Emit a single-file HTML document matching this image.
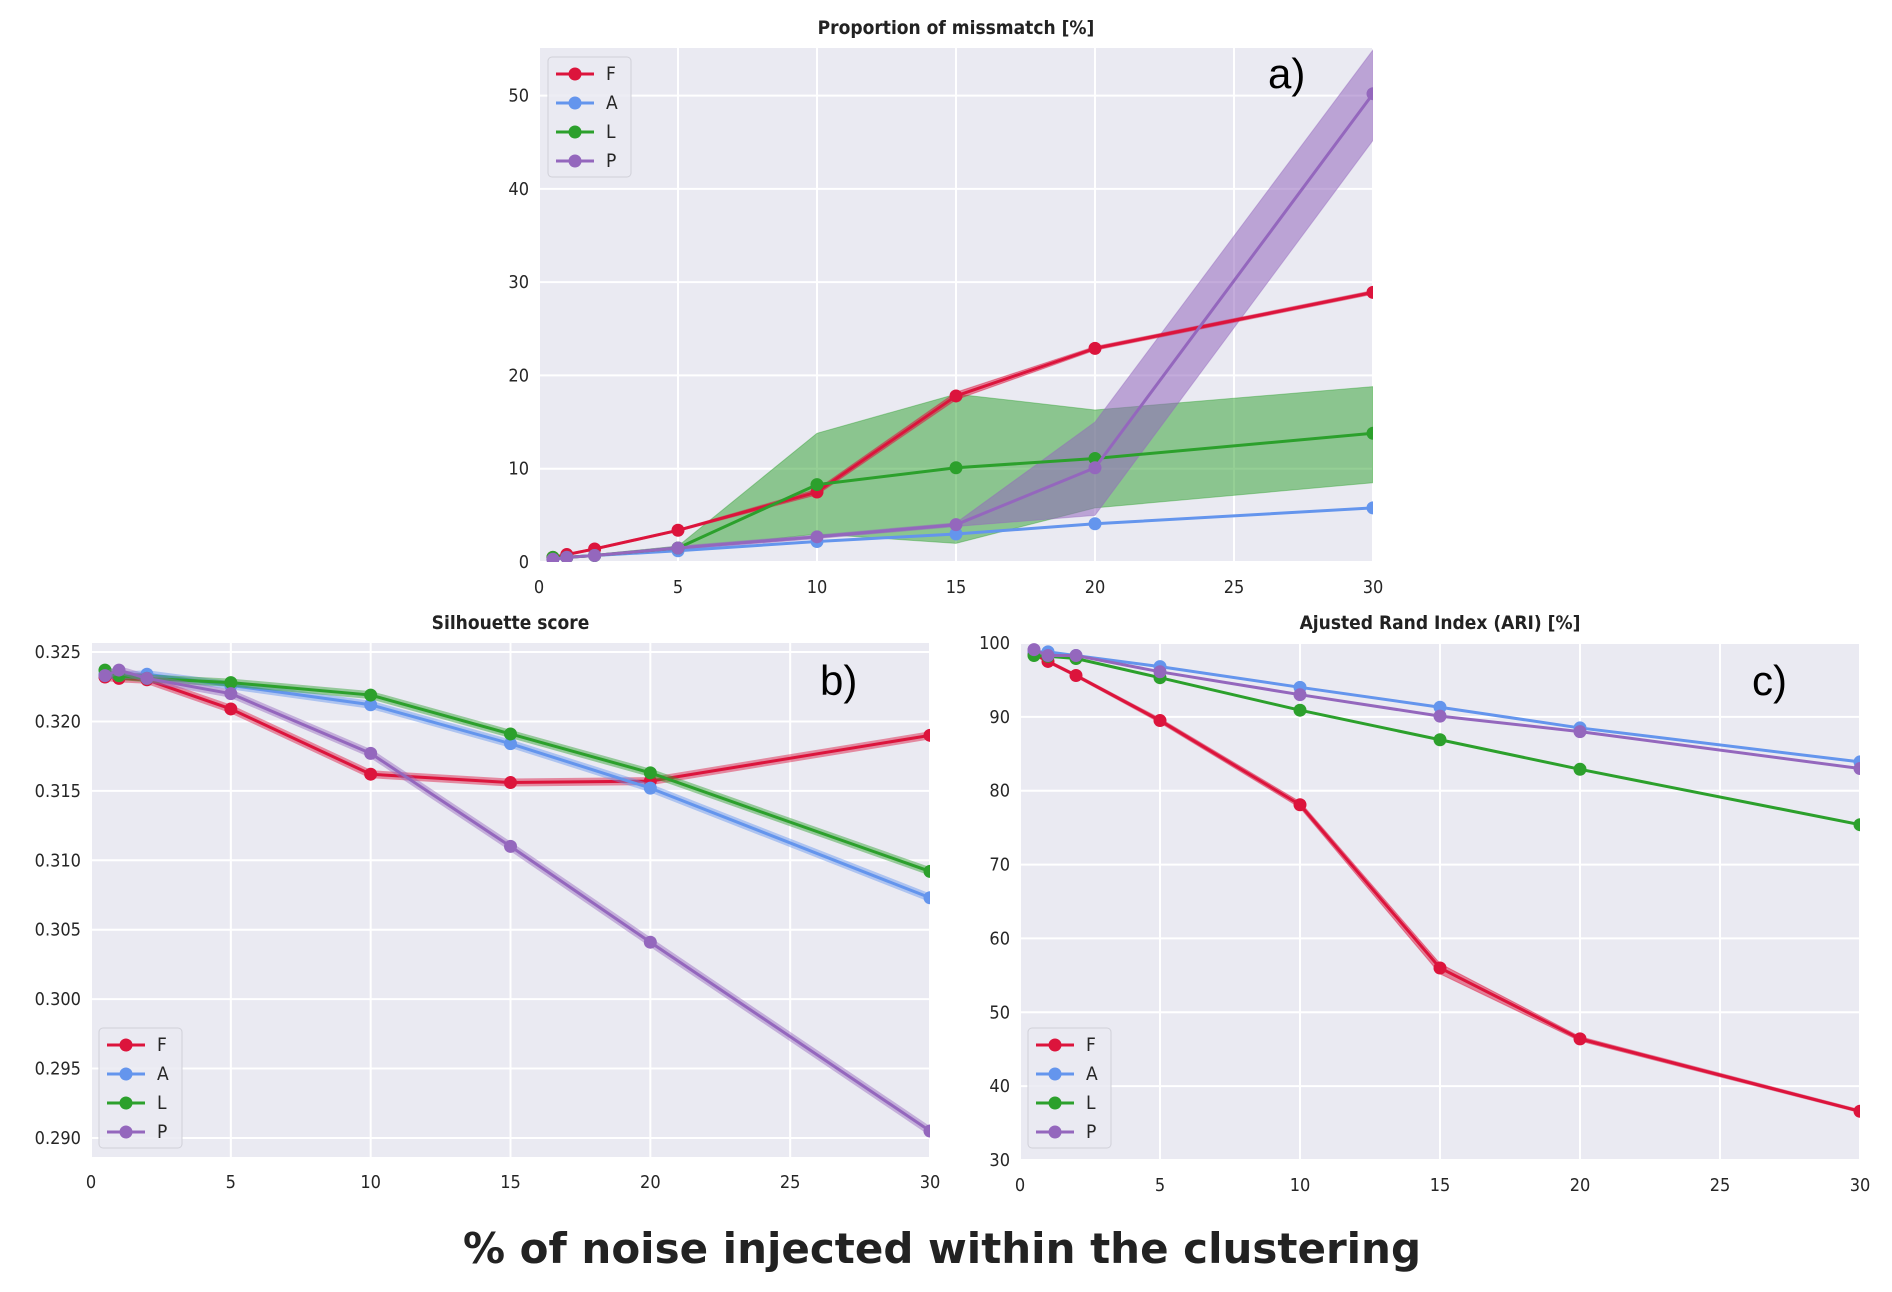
<!DOCTYPE html>
<html><head><meta charset="utf-8"><style>
html,body{margin:0;padding:0;background:#fff;}
svg{display:block;font-family:"DejaVu Sans Condensed","DejaVu Sans","Liberation Sans",sans-serif;}
</style></head><body>
<svg id="fig" width="1892" height="1292" viewBox="0 0 1892 1292" xmlns="http://www.w3.org/2000/svg">
<text x="942" y="1263" text-anchor="middle" font-size="42" font-weight="bold" fill="#222" font-family="DejaVu Sans, sans-serif">% of noise injected within the clustering</text>
</svg>
<script>
const xs = [0.5,1,2,5,10,15,20,30];
const xTicks = [0,5,10,15,20,25,30];
const seriesNames = ['F','A','L','P'];
const colors = ['#dc143c','#6495ed','#2ca02c','#9467bd'];

// panel a
const aF = [0.5,0.8,1.4,3.4,7.5,17.8,22.9,28.9];
const aA = [0.3,0.5,0.7,1.2,2.2,3.0,4.1,5.8];
const aL = [0.5,0.5,0.7,1.5,8.3,10.1,11.1,13.8];
const aP = [0.3,0.5,0.7,1.5,2.7,4.0,10.1,50.2];
const aLlo = [0.4,0.4,0.6,1.3,3.0,2.0,5.8,8.5];
const aLhi = [0.6,0.6,0.8,1.7,13.8,18.0,16.3,18.8];
const aPlo = [0.2,0.4,0.6,1.3,2.5,3.8,5.0,45.2];
const aPhi = [0.4,0.6,0.8,1.7,2.9,4.2,15.0,54.9];
const aFlo = [0.4,0.7,1.3,3.3,7.2,17.4,22.7,28.7];
const aFhi = [0.6,0.9,1.5,3.5,7.8,18.2,23.1,29.1];
const aYTicks = [0,10,20,30,40,50];

// panel b
const bF = [0.3232,0.3231,0.3230,0.3209,0.3162,0.3156,0.3157,0.3190];
const bA = [0.3234,0.3233,0.3234,0.3226,0.3212,0.3184,0.3152,0.3073];
const bL = [0.3237,0.3233,0.3231,0.3228,0.3219,0.3191,0.3163,0.3092];
const bP = [0.3233,0.3237,0.3231,0.3220,0.3177,0.3110,0.3041,0.2905];
const bYTicks = [0.290,0.295,0.300,0.305,0.310,0.315,0.320,0.325];
const bYLabels = ['0.290','0.295','0.300','0.305','0.310','0.315','0.320','0.325'];

// panel c
const cF = [98.5,97.5,95.6,89.5,78.1,56.0,46.4,36.6];
const cA = [98.8,98.8,98.3,96.8,94.0,91.3,88.5,83.9];
const cL = [98.3,98.2,97.9,95.3,90.9,86.9,82.9,75.4];
const cP = [99.1,98.3,98.3,96.1,93.0,90.1,88.0,83.0];
const cFlo = [98.3,97.3,95.4,89.2,77.7,55.2,46.1,36.4];
const cFhi = [98.7,97.7,95.8,89.8,78.5,56.6,46.7,36.8];
const cYTicks = [30,40,50,60,70,80,90,100];

const NS='http://www.w3.org/2000/svg';
const svg=document.getElementById('fig');
function el(tag,attrs,parent){const e=document.createElementNS(NS,tag);for(const k in attrs)e.setAttribute(k,attrs[k]);(parent||svg).appendChild(e);return e;}

function panel(cfg){
  const g=el('g',{});
  
  
  const sx=v=>cfg.x0+(v-cfg.xmin)/(cfg.xmax-cfg.xmin)*(cfg.x1-cfg.x0);
  const sy=v=>cfg.y1-(v-cfg.ymin)/(cfg.ymax-cfg.ymin)*(cfg.y1-cfg.y0);
  const bg=el('rect',{x:cfg.x0,y:cfg.y0,width:cfg.x1-cfg.x0,height:cfg.y1-cfg.y0,fill:'#eaeaf2'},g);
  
  
  xTicks.forEach(t=>{
    el('line',{x1:sx(t),x2:sx(t),y1:cfg.y0,y2:cfg.y1,stroke:'#fff','stroke-width':2},g);
    const tx=el('text',{x:sx(t),y:cfg.y1+31,'text-anchor':'middle','font-size':18,fill:'#262626'},g);
    tx.textContent=t;
    
    
  });
  cfg.yTicks.forEach((t,i)=>{
    el('line',{x1:cfg.x0,x2:cfg.x1,y1:sy(t),y2:sy(t),stroke:'#fff','stroke-width':2},g);
    const ty=el('text',{x:cfg.x0-10,y:sy(t)+6,'text-anchor':'end','font-size':18,fill:'#262626'},g);
    ty.textContent=cfg.yLabels?cfg.yLabels[i]:t;
    
    
  });
  const clip=el('clipPath',{id:cfg.name+'-clip'},g);
  el('rect',{x:cfg.x0,y:cfg.y0,width:cfg.x1-cfg.x0,height:cfg.y1-cfg.y0},clip);
  const pg=el('g',{'clip-path':'url(#'+cfg.name+'-clip)'},g);
  cfg.bands.forEach(b=>{
    let d='M'+xs.map((x,i)=>sx(x)+','+sy(b.hi[i])).join('L');
    d+='L'+xs.map((x,i)=>sx(x)+','+sy(b.lo[i])).reverse().join('L')+'Z';
    const p=el('path',{d:d,fill:colors[b.c],'fill-opacity':b.op||0.5,stroke:colors[b.c],'stroke-opacity':0.4},pg);
    
    
  });
  cfg.series.forEach((s,k)=>{
    const sg=el('g',{},pg);
    
    
    if(cfg.halo){
      el('polyline',{points:xs.map((x,i)=>sx(x)+','+sy(s[i])).join(' '),fill:'none',stroke:colors[k],'stroke-width':8,'stroke-opacity':0.45,'stroke-linejoin':'round'},sg);
    }
    el('polyline',{points:xs.map((x,i)=>sx(x)+','+sy(s[i])).join(' '),fill:'none',stroke:colors[k],'stroke-width':3,'stroke-linejoin':'round'},sg);
    s.forEach((v,i)=>{
      const c=el('circle',{cx:sx(xs[i]),cy:sy(v),r:6.5,fill:colors[k]},sg);
      
      
    });
  });
  const tt=el('text',{x:(cfg.x0+cfg.x1)/2,y:cfg.y0-14,'text-anchor':'middle','font-size':19,'font-weight':'bold',fill:'#222'},g);
  tt.textContent=cfg.title;
  
  
  const pl=el('text',{x:cfg.lab[0],y:cfg.lab[1],'font-size':42,fill:'#000','font-family':'Liberation Sans, sans-serif'},g);
  pl.textContent=cfg.label;
  
  
  const lg=el('g',{},g);
  
  
  const [lx,ly]=cfg.leg;
  el('rect',{x:lx,y:ly,width:83,height:120,rx:4,fill:'#eaeaf2','fill-opacity':0.85,stroke:'#d0d0d8'},lg);
  seriesNames.forEach((n,k)=>{
    const yy=ly+17+k*29;
    const e=el('g',{},lg);
    
    
    el('line',{x1:lx+8,x2:lx+46,y1:yy,y2:yy,stroke:colors[k],'stroke-width':3},e);
    el('circle',{cx:lx+27,cy:yy,r:6.5,fill:colors[k]},e);
    const t=el('text',{x:lx+58,y:yy+6,'font-size':19,fill:'#262626'},e);
    t.textContent=n;
  });
}

panel({name:'panel-a',title:'Proportion of missmatch [%]',label:'a)',lab:[1268,88],
  x0:539,x1:1373,y0:48,y1:562,xmin:0,xmax:30,ymin:0,ymax:55.1,yTicks:aYTicks,
  series:[aF,aA,aL,aP],leg:[548,57],halo:false,
  bands:[{c:2,lo:aLlo,hi:aLhi,op:0.5},{c:3,lo:aPlo,hi:aPhi,op:0.55},{c:0,lo:aFlo,hi:aFhi,op:0.5}]});
panel({name:'panel-b',title:'Silhouette score',label:'b)',lab:[820,695],
  x0:91,x1:930,y0:643,y1:1157,xmin:0,xmax:30,ymin:0.28863,ymax:0.32565,yTicks:bYTicks,yLabels:bYLabels,
  series:[bF,bA,bL,bP],leg:[99,1028],halo:true,bands:[]});
panel({name:'panel-c',title:'Ajusted Rand Index (ARI) [%]',label:'c)',lab:[1752,695],
  x0:1020,x1:1860,y0:643,y1:1160,xmin:0,xmax:30,ymin:30,ymax:100,yTicks:cYTicks,
  series:[cF,cA,cL,cP],leg:[1028,1028],halo:false,bands:[{c:0,lo:cFlo,hi:cFhi,op:0.5}]});
</script>
</body></html>
